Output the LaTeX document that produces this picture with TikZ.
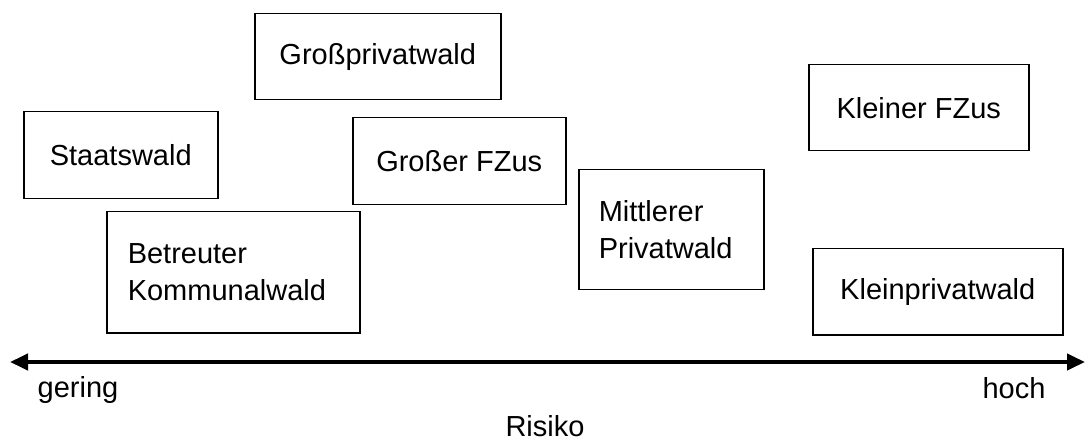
\documentclass[tikz,border=0pt]{standalone}
\usepackage{fontspec}
\setmainfont{Liberation Sans}
\usetikzlibrary{arrows.meta}
\begin{document}
\begin{tikzpicture}[x=1pt,y=-1pt,
  box/.style={draw, line width=1.5pt, anchor=north west, inner sep=0pt,
    font=\fontsize{29}{37}\selectfont, align=left},
  lbl/.style={anchor=base, font=\fontsize{29}{37}\selectfont, inner sep=0pt},
  axis/.style={line width=4pt, {Triangle[length=18pt,width=16pt]}-{Triangle[length=18pt,width=16pt]}}]
\useasboundingbox (0,0) rectangle (1086,443);
\node[box, minimum width=194pt, minimum height=87pt] (staat) at (23,111) {Staatswald};
\node[box, minimum width=253pt, minimum height=121pt, text width=211pt] (komm) at (106,211) {Betreuter\\Kommunalwald};
\node[box, minimum width=246pt, minimum height=86pt] (gross) at (254,13) {Großprivatwald};
\node[box, minimum width=213pt, minimum height=87pt] (gfz) at (352,117) {Großer FZus};
\node[box, minimum width=185pt, minimum height=120pt, text width=145pt] (mitt) at (578,169) {Mittlerer\\Privatwald};
\node[box, minimum width=220pt, minimum height=86pt] (kfz) at (808,64) {Kleiner FZus};
\node[box, minimum width=250pt, minimum height=86pt] (klein) at (812,248) {Kleinprivatwald};
\coordinate (L) at (10,362);
\coordinate (R) at (1085,362);
\draw[axis] (L) -- (R);
\node[lbl] (gering) at (78,397) {gering};
\node[lbl] (hoch) at (1014,398) {hoch};
\node[lbl] (risiko) at (545,436) {Risiko};
\end{tikzpicture}
\end{document}
